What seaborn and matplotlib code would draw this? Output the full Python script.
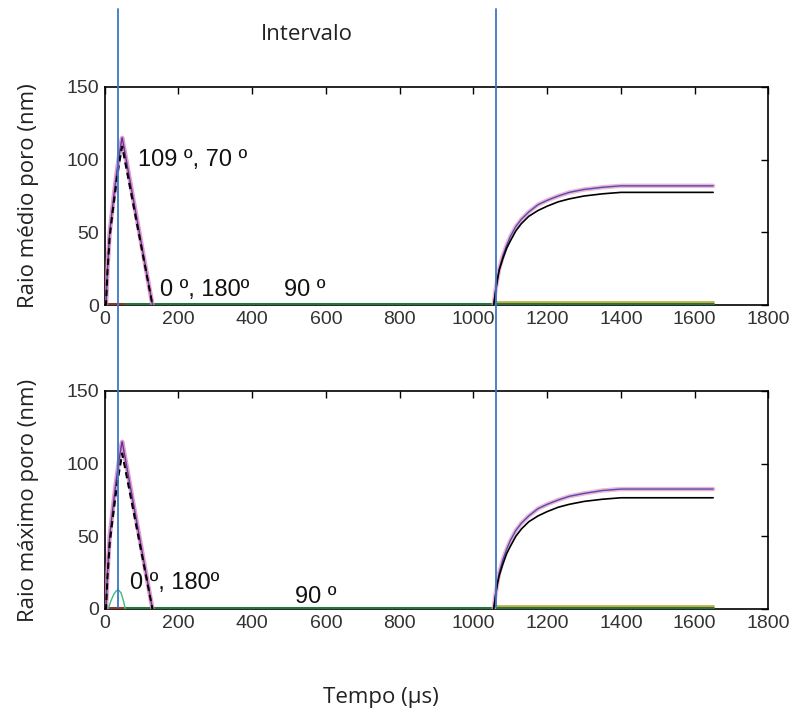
import numpy as np
import pandas as pd
import matplotlib
matplotlib.use("Agg")
import matplotlib.pyplot as plt
import seaborn as sns
from matplotlib.lines import Line2D
from matplotlib.transforms import blended_transform_factory

# ---------------- data ----------------
# early pulse (109 deg, 70 deg)
t_pulse = [0, 4, 8, 14, 22, 30, 38, 46, 48, 130]
top_pulse_pink = [0, 0, 25, 50, 68, 85, 100, 113, 115, 0]
top_pulse_black = [0, 0, 23, 47, 64, 80, 95, 107, 109, 0]
bot_pulse_pink = [0, 0, 25, 50, 68, 85, 100, 113, 115, 0]
bot_pulse_black = [0, 0, 22, 45, 62, 78, 92, 104, 107, 0]

# recovery after the interval
t_rise = [1055, 1060, 1065, 1070, 1080, 1090, 1100, 1115, 1130, 1150, 1175,
          1200, 1230, 1260, 1300, 1350, 1400, 1500, 1650]
top_rise_pink = [0, 10, 18, 25, 34, 41, 47, 54, 59, 64, 69, 72, 75, 77.5,
                 79.5, 81, 82, 82, 82]
top_rise_black = [0, 9, 17, 24, 32, 39, 44, 51, 56, 61, 65, 68, 71, 73,
                  75, 76.5, 77.5, 77.5, 77.5]
bot_rise_pink = [0, 10, 18, 25, 34, 41, 47, 54, 59, 64, 69, 72, 75, 77.5,
                 79.5, 81.5, 82.5, 82.5, 82.5]
bot_rise_black = [0, 9, 17, 23, 31, 38, 43, 50, 55, 60, 64, 67, 70, 72,
                  74, 75.5, 76.5, 76.5, 76.5]

# near-zero traces (0 deg/180 deg and 90 deg)
t_flat = [0, 1650]
flat_green = [0.5, 0.5]
t_late = [1060, 1650]
late_olive = [1.8, 1.8]
t_early = [0, 50]
early_red = [0.6, 0.6]
t_bump = [10, 18, 25, 32, 38, 45, 52, 56]
bot_bump = [0, 6, 10, 12.5, 13, 11, 5, 0]

interval_marks = [36, 1061]
x_ticks = [0, 200, 400, 600, 800, 1000, 1200, 1400, 1600, 1800]
y_ticks = [0, 50, 100, 150]

ylabels = ["Raio médio poro (nm)", "Raio máximo poro (nm)"]
xlabel = "Tempo (μs)"
top_title = "Intervalo"

# ---------------- figure ----------------
sns.set_theme(style="white")
plt.rcParams["font.family"] = ["Liberation Sans", "DejaVu Sans"]

fig = plt.figure(figsize=(7.93, 7.13), dpi=100)
ax_top = fig.add_axes([0.1318, 0.5722, 0.8373, 0.3058])
ax_bot = fig.add_axes([0.1318, 0.1459, 0.8373, 0.3058])


def draw(ax, pulse_pink, pulse_black, rise_pink, rise_black, bump=None):
    sns.lineplot(x=t_flat, y=flat_green, ax=ax, color="#1f7a3a", lw=2.2, zorder=3)
    sns.lineplot(x=t_late, y=late_olive, ax=ax, color="#c8b040", lw=2.0, zorder=2)
    sns.lineplot(x=t_early, y=early_red, ax=ax, color="#9a3020", lw=2.0, zorder=4)
    if bump is not None:
        sns.lineplot(x=t_bump, y=bump, ax=ax, color="#40b880", lw=1.0, zorder=4)
    sns.lineplot(x=t_pulse, y=pulse_pink, ax=ax, color="#e080c0", lw=3.2, alpha=0.8, zorder=5)
    sns.lineplot(x=t_pulse, y=pulse_pink, ax=ax, color="#5a3c9a", lw=1.0, zorder=6)
    sns.lineplot(x=t_pulse, y=pulse_black, ax=ax, color="black", lw=1.5,
                 linestyle=(0, (3, 2)), zorder=7)
    sns.lineplot(x=t_rise, y=rise_pink, ax=ax, color="#f0a0c8", lw=3.2, alpha=0.8, zorder=5)
    sns.lineplot(x=t_rise, y=rise_pink, ax=ax, color="#4a50b0", lw=1.0, zorder=6)
    sns.lineplot(x=t_rise, y=rise_black, ax=ax, color="black", lw=1.2, zorder=7)

    ax.set_xlim(0, 1800)
    ax.set_ylim(0, 150)
    ax.set_xticks(x_ticks)
    ax.set_yticks(y_ticks)
    ax.tick_params(direction="in", length=5, width=1, top=True, right=True,
                   labelsize=14, labelcolor="#333333", pad=4, color="black")
    for s in ax.spines.values():
        s.set_color("black")
        s.set_linewidth(1.2)
    ax.set_xlabel("")


draw(ax_top, top_pulse_pink, top_pulse_black, top_rise_pink, top_rise_black)
draw(ax_bot, bot_pulse_pink, bot_pulse_black, bot_rise_pink, bot_rise_black, bump=bot_bump)

lab_kw = dict(fontsize=16, family=["Open Sans", "DejaVu Sans"], color="#222222", labelpad=20)
ax_top.set_ylabel(ylabels[0], **lab_kw)
ax_bot.set_ylabel(ylabels[1], **lab_kw)

ann_kw = dict(fontsize=17, color="#111111", va="center", ha="left", zorder=10)
ax_top.text(91, 100, "109 º, 70 º", **ann_kw)
ax_top.text(150, 10, "0 º, 180º", **ann_kw)
ax_top.text(486, 10, "90 º", **ann_kw)
ax_bot.text(69, 18, "0 º, 180º", **ann_kw)
ax_bot.text(516, 8, "90 º", **ann_kw)

fig.text(307 / 793, 1 - 35 / 713, top_title, fontsize=16, ha="center", va="center",
         family=["Open Sans", "DejaVu Sans"], color="#222222")
fig.text(381 / 793, 1 - 697 / 713, xlabel, fontsize=16, ha="center", va="center",
         family=["Open Sans", "DejaVu Sans"], color="#222222")

# interval marker lines across both panels
trans = blended_transform_factory(ax_top.transData, fig.transFigure)
for xm in interval_marks:
    fig.add_artist(Line2D([xm, xm], [1 - 9 / 713, 1 - 607 / 713], transform=trans,
                          color="#3a78c8", lw=1.3, zorder=20))

fig.savefig("out.png", dpi=100)
